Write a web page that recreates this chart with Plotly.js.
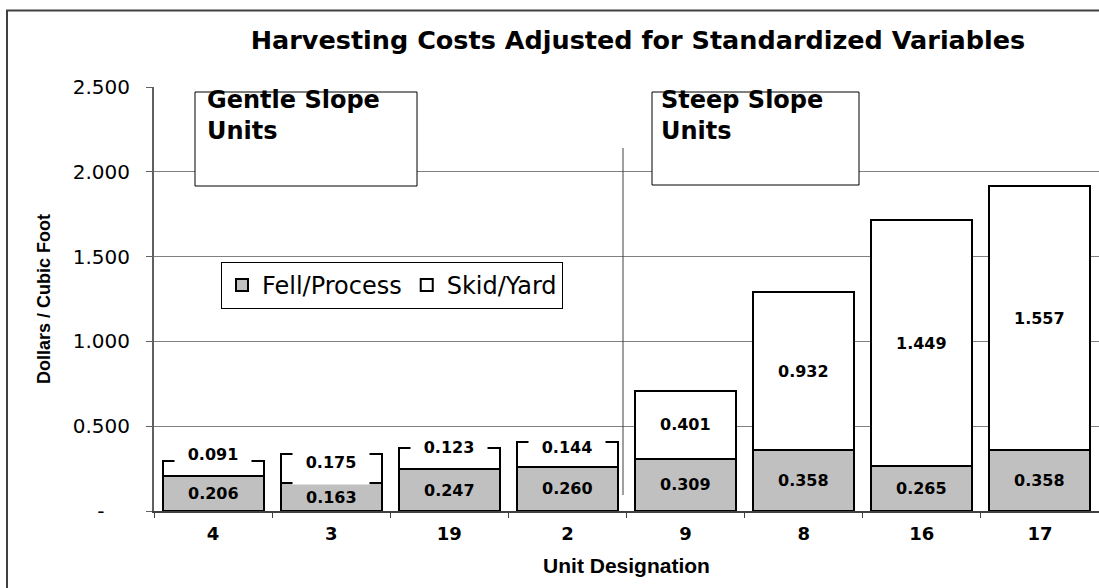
<!DOCTYPE html>
<html>
<head>
<meta charset="utf-8">
<script src="https://cdn.plot.ly/plotly-3.0.1.min.js"></script>
<style>html,body{margin:0;padding:0;background:#fff;}#chart{width:1099px;height:588px;}</style>
</head>
<body>
<div id="chart"></div>
<script>
// ---- data ----
const categories = ['4', '3', '19', '2', '9', '8', '16', '17'];
const fellProcess = [0.206, 0.163, 0.247, 0.260, 0.309, 0.358, 0.265, 0.358];
const skidYard = [0.091, 0.175, 0.123, 0.144, 0.401, 0.932, 1.449, 1.557];
const seriesNames = ['Fell/Process', 'Skid/Yard'];
const yTickVals = [0, 0.5, 1.0, 1.5, 2.0, 2.5];
const yTickText = ['-', '0.500', '1.000', '1.500', '2.000', '2.500'];
const groupLabels = ['Gentle Slope<br>Units', 'Steep Slope<br>Units'];
const titleText = 'Harvesting Costs Adjusted for Standardized Variables';
const xTitle = 'Unit Designation';
const yTitle = 'Dollars / Cubic Foot';

// ---- layout geometry (pixels) ----
const W = 1099, H = 588;
const PL = 154, PR = 1099, PT = 87, PB = 511;
const px = v => (v - PL) / (PR - PL);
const py = v => (PB - v) / (PB - PT);

const wide = 'DejaVu Sans, Verdana, sans-serif';
const arial = 'Liberation Sans, Arial, sans-serif';

// label style for the small (gentle slope) skid segments
const skidLabelShift = [6.6, -8, 1, -4.5];   // px, relative to segment top
const skidLabelBoxH = [24, 44, 24, 24];

const traces = [
  {
    type: 'bar', name: seriesNames[0], x: categories, y: fellProcess,
    marker: {color: '#C0C0C0', line: {color: '#000', width: 2}},
    hoverinfo: 'none'
  },
  {
    type: 'bar', name: seriesNames[1], x: categories, y: skidYard,
    marker: {color: '#FFFFFF', line: {color: '#000', width: 2}},
    hoverinfo: 'none'
  }
];

const labelFont = {family: wide, size: 16, color: '#000', weight: 'bold'};
const annotations = [];
categories.forEach((c, i) => {
  // category axis: annotation x given as category index
  annotations.push({
    xref: 'x', yref: 'y', x: i, y: fellProcess[i] / 2,
    text: fellProcess[i].toFixed(3), showarrow: false, font: labelFont
  });
  if (i < 4) {
    annotations.push({
      xref: 'x', yref: 'y', x: i, y: fellProcess[i] + skidYard[i],
      yshift: skidLabelShift[i],
      text: skidYard[i].toFixed(3), showarrow: false,
      bgcolor: '#FFFFFF', width: 76, height: skidLabelBoxH[i], borderpad: 0,
      font: labelFont
    });
  } else {
    annotations.push({
      xref: 'x', yref: 'y', x: i, y: fellProcess[i] + skidYard[i] / 2,
      text: skidYard[i].toFixed(3), showarrow: false, font: labelFont
    });
  }
});

// group label texts
const groupTextX = [206, 660];
groupLabels.forEach((t, g) => {
  annotations.push({
    xref: 'paper', yref: 'paper', x: px(groupTextX[g]), y: py(85),
    xanchor: 'left', yanchor: 'top', align: 'left', text: t, showarrow: false, borderpad: 0,
    font: {family: wide, size: 24, color: '#000', weight: 'bold'}
  });
});

const shapes = [
  // outer chart border
  {type: 'rect', xref: 'paper', yref: 'paper', x0: px(7), x1: px(1110), y0: py(600), y1: py(10.5),
   line: {color: '#404040', width: 2}, fillcolor: 'rgba(0,0,0,0)', layer: 'below'},
  // group boxes
  {type: 'rect', xref: 'paper', yref: 'paper', x0: px(195), x1: px(417), y0: py(186), y1: py(92),
   line: {color: '#000', width: 1}, fillcolor: '#FFFFFF', layer: 'above'},
  {type: 'rect', xref: 'paper', yref: 'paper', x0: px(652), x1: px(859), y0: py(185), y1: py(92),
   line: {color: '#000', width: 1}, fillcolor: '#FFFFFF', layer: 'above'},
  // separator line
  {type: 'line', xref: 'paper', yref: 'paper', x0: px(623), x1: px(623), y0: py(495), y1: py(148),
   line: {color: '#404040', width: 1}}
];

const layout = {
  width: W, height: H,
  margin: {l: PL, r: W - PR, t: PT, b: H - PB, pad: 0},
  paper_bgcolor: '#FFFFFF', plot_bgcolor: '#FFFFFF',
  barmode: 'stack', bargap: 0.145,
  showlegend: true,
  title: {
    text: titleText, x: px(638), xref: 'paper', xanchor: 'center',
    y: 1 - 40 / H, yref: 'container', yanchor: 'middle',
    font: {family: wide, size: 25.5, color: '#000', weight: 'bold'}
  },
  xaxis: {
    type: 'category', range: [-0.5, categories.length - 0.5],
    tickson: 'boundaries', ticks: 'outside', ticklen: 5, tickcolor: '#404040',
    showline: true, linecolor: '#404040', linewidth: 2, showgrid: false, zeroline: false,
    tickfont: {family: wide, size: 18, color: '#000', weight: 'bold'}, ticklabelstandoff: 5,
    title: {text: xTitle, standoff: 16, font: {family: arial, size: 21, color: '#000', weight: 'bold'}},
    fixedrange: true
  },
  yaxis: {
    range: [0, 2.5], tickvals: yTickVals,
    ticktext: yTickText.map(t => t === '-' ? t + '\u00a0\u00a0\u00a0\u00a0' : t),
    ticks: 'outside', ticklen: 6, tickcolor: '#606060',
    showline: true, linecolor: '#606060', linewidth: 2,
    showgrid: true, gridcolor: '#808080', gridwidth: 1, zeroline: false,
    tickfont: {family: wide, size: 20, color: '#000'}, ticklabelstandoff: 12,
    title: {text: yTitle, standoff: 17, font: {family: arial, size: 18, color: '#000', weight: 'bold'}},
    fixedrange: true
  },
  legend: {
    orientation: 'h', x: px(221), y: py(262), xanchor: 'left', yanchor: 'top',
    bgcolor: '#FFFFFF', bordercolor: '#000', borderwidth: 1,
    font: {family: wide, size: 24, color: '#000'}, itemwidth: 30, traceorder: 'normal'
  },
  annotations: annotations,
  shapes: shapes
};

Plotly.newPlot('chart', traces, layout, {displayModeBar: false, staticPlot: true});
</script>
</body>
</html>
